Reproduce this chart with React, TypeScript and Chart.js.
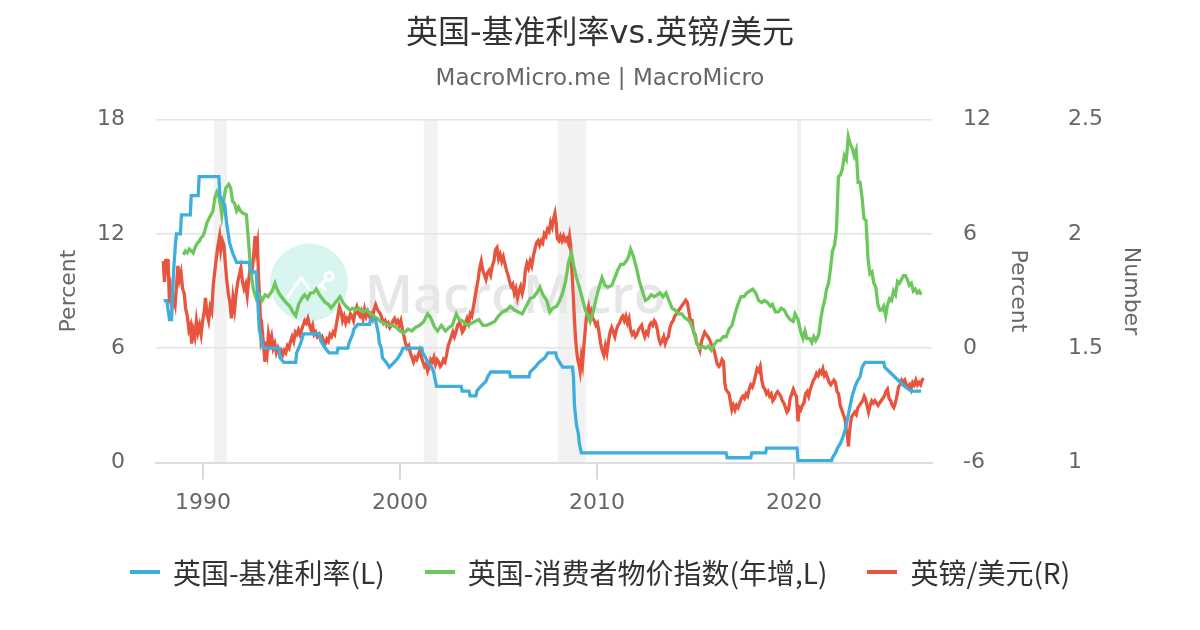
import React, { useEffect, useRef } from "react";
import { Chart, registerables } from "chart.js";

Chart.register(...registerables);

const TITLE = "英国-基准利率vs.英镑/美元";
const SUBTITLE = "MacroMicro.me | MacroMicro";
const SERIES_NAMES = ["英国-基准利率(L)", "英国-消费者物价指数(年增,L)", "英镑/美元(R)"];
const SERIES_COLORS = ["#3eaedc", "#6cc75c", "#e8553e"];
const LEFT_TITLE = "Percent";
const MID_TITLE = "Percent";
const RIGHT_TITLE = "Number";
const X_TICKS = [1990, 2000, 2010, 2020];
const X_RANGE = [1987.61, 2027.0];
const LEFT_RANGE = [0, 18, 6];
const MID_RANGE = [-6, 12, 6];
const RIGHT_RANGE = [1, 2.5, 0.5];
const RECESSIONS: [number, number][] = [
  [1990.55, 1991.2],
  [2001.2, 2001.9],
  [2008.0, 2009.45],
  [2020.15, 2020.35],
];

// [year, Bank Rate %]
const BANK_RATE: [number, number][] = [
  [1988.0, 8.5], [1988.15, 8.5], [1988.3, 7.5], [1988.4, 7.5], [1988.5, 10], [1988.6, 11.5],
  [1988.65, 12], [1988.85, 12], [1988.9, 13], [1989.35, 13], [1989.4, 14], [1989.75, 14],
  [1989.8, 15], [1990.8, 15], [1990.85, 14], [1991.1, 13.5], [1991.2, 12.5], [1991.35, 11.5],
  [1991.5, 11], [1991.7, 10.5], [1992.35, 10.5], [1992.4, 10], [1992.7, 10], [1992.75, 9],
  [1992.85, 7], [1993.05, 6], [1993.85, 6], [1993.9, 5.5], [1994.1, 5.25], [1994.7, 5.25],
  [1994.75, 5.75], [1994.95, 6.25], [1995.1, 6.75], [1995.9, 6.75], [1995.95, 6.5],
  [1996.05, 6.25], [1996.2, 6], [1996.4, 5.75], [1996.8, 5.75], [1996.85, 6], [1997.35, 6],
  [1997.4, 6.25], [1997.5, 6.5], [1997.6, 6.75], [1997.65, 7], [1997.85, 7.25], [1998.45, 7.25],
  [1998.5, 7.5], [1998.75, 7.5], [1998.8, 7.25], [1998.9, 6.75], [1998.95, 6.25], [1999.05, 6],
  [1999.1, 5.5], [1999.3, 5.25], [1999.45, 5], [1999.7, 5.25], [1999.9, 5.5], [2000.05, 5.75],
  [2000.15, 6], [2001.1, 6], [2001.15, 5.75], [2001.3, 5.5], [2001.4, 5.25], [2001.6, 5],
  [2001.7, 4.75], [2001.75, 4.5], [2001.85, 4], [2003.1, 4], [2003.15, 3.75], [2003.5, 3.75],
  [2003.55, 3.5], [2003.85, 3.5], [2003.9, 3.75], [2004.1, 4], [2004.35, 4.25], [2004.45, 4.5],
  [2004.6, 4.75], [2005.55, 4.75], [2005.6, 4.5], [2006.55, 4.5], [2006.6, 4.75], [2006.85, 5],
  [2007.05, 5.25], [2007.35, 5.5], [2007.5, 5.75], [2007.9, 5.75], [2007.95, 5.5], [2008.1, 5.25],
  [2008.25, 5], [2008.75, 5], [2008.8, 4.5], [2008.85, 3], [2008.95, 2], [2009.05, 1.5],
  [2009.1, 1], [2009.2, 0.5], [2016.55, 0.5], [2016.6, 0.25], [2017.8, 0.25], [2017.85, 0.5],
  [2018.55, 0.5], [2018.6, 0.75], [2020.15, 0.75], [2020.2, 0.1], [2021.9, 0.1], [2021.95, 0.25],
  [2022.1, 0.5], [2022.2, 0.75], [2022.35, 1], [2022.45, 1.25], [2022.6, 1.75], [2022.7, 2.25],
  [2022.85, 3], [2022.95, 3.5], [2023.1, 4], [2023.2, 4.25], [2023.35, 4.5], [2023.45, 5],
  [2023.6, 5.25], [2024.55, 5.25], [2024.6, 5], [2024.85, 4.75], [2025.1, 4.5], [2025.35, 4.25],
  [2025.6, 4], [2025.95, 3.75], [2026.45, 3.75],
];

// [year, CPI YoY %]
const CPI_YOY: [number, number][] = [
  [1989.0, 4.9], [1989.1, 5.1], [1989.2, 5.0], [1989.3, 5.2], [1989.4, 5.1], [1989.5, 5.0],
  [1989.6, 5.3], [1989.7, 5.5], [1989.8, 5.6], [1989.9, 5.8], [1990.0, 5.9], [1990.1, 6.2],
  [1990.2, 6.6], [1990.3, 6.8], [1990.4, 7.0], [1990.5, 7.2], [1990.6, 7.9], [1990.7, 8.2],
  [1990.8, 8.0], [1990.9, 7.4], [1990.95, 7.0], [1991.05, 7.8], [1991.15, 8.4], [1991.3, 8.6],
  [1991.4, 8.4], [1991.5, 7.7], [1991.6, 7.6], [1991.7, 7.2], [1991.8, 7.4], [1991.9, 7.2],
  [1992.0, 7.1], [1992.2, 7.0], [1992.35, 5.0], [1992.45, 3.8], [1992.55, 3.1], [1992.7, 2.6],
  [1992.85, 2.8], [1993.0, 2.5], [1993.15, 2.8], [1993.3, 2.7], [1993.5, 3.0], [1993.65, 3.4],
  [1993.75, 3.1], [1993.9, 2.8], [1994.05, 2.6], [1994.2, 2.4], [1994.4, 2.2], [1994.55, 1.9],
  [1994.7, 1.7], [1994.85, 2.3], [1995.0, 2.6], [1995.15, 2.8], [1995.3, 2.6], [1995.45, 2.9],
  [1995.6, 2.9], [1995.75, 3.1], [1995.9, 2.8], [1996.05, 2.6], [1996.2, 2.4], [1996.35, 2.3],
  [1996.5, 2.1], [1996.65, 2.3], [1996.8, 2.5], [1996.95, 2.7], [1997.1, 2.4], [1997.25, 2.2],
  [1997.45, 2.0], [1997.6, 2.1], [1997.75, 2.0], [1997.9, 2.1], [1998.1, 1.9], [1998.3, 2.0],
  [1998.5, 1.8], [1998.65, 1.7], [1998.8, 1.6], [1999.0, 1.4], [1999.2, 1.3], [1999.4, 1.2],
  [1999.6, 1.2], [1999.8, 1.1], [2000.0, 0.9], [2000.2, 0.8], [2000.4, 1.0], [2000.6, 0.9],
  [2000.8, 1.1], [2001.0, 1.2], [2001.2, 1.4], [2001.4, 1.8], [2001.55, 1.6], [2001.75, 1.1],
  [2001.9, 0.9], [2002.1, 1.2], [2002.3, 0.9], [2002.5, 1.1], [2002.65, 1.2], [2002.85, 1.8],
  [2003.0, 1.5], [2003.2, 1.4], [2003.4, 1.2], [2003.6, 1.3], [2003.8, 1.4], [2004.0, 1.5],
  [2004.2, 1.2], [2004.4, 1.2], [2004.6, 1.3], [2004.8, 1.4], [2005.0, 1.7], [2005.2, 1.9],
  [2005.4, 2.0], [2005.6, 2.2], [2005.8, 2.0], [2006.0, 1.9], [2006.2, 1.8], [2006.4, 2.2],
  [2006.6, 2.6], [2006.8, 2.7], [2007.0, 3.0], [2007.1, 3.2], [2007.25, 2.8], [2007.45, 2.5],
  [2007.6, 1.9], [2007.75, 2.1], [2007.95, 2.2], [2008.1, 2.5], [2008.25, 2.9], [2008.4, 3.5],
  [2008.55, 4.5], [2008.7, 5.0], [2008.8, 4.4], [2008.95, 3.7], [2009.1, 3.2], [2009.25, 2.6],
  [2009.4, 2.0], [2009.55, 1.7], [2009.65, 1.4], [2009.8, 1.9], [2009.95, 2.6], [2010.1, 3.2],
  [2010.25, 3.7], [2010.4, 3.3], [2010.55, 3.2], [2010.75, 3.3], [2010.9, 3.7], [2011.05, 4.1],
  [2011.2, 4.4], [2011.35, 4.4], [2011.5, 4.6], [2011.6, 4.8], [2011.7, 5.2], [2011.85, 4.8],
  [2012.0, 4.2], [2012.15, 3.5], [2012.3, 3.0], [2012.45, 2.5], [2012.6, 2.6], [2012.75, 2.8],
  [2012.9, 2.7], [2013.05, 2.8], [2013.2, 2.9], [2013.35, 2.7], [2013.5, 2.9], [2013.65, 2.5],
  [2013.8, 2.1], [2013.95, 2.0], [2014.1, 1.8], [2014.3, 1.8], [2014.45, 1.6], [2014.6, 1.5],
  [2014.75, 1.3], [2014.9, 0.9], [2015.05, 0.3], [2015.2, 0.0], [2015.35, 0.1], [2015.5, 0.0],
  [2015.65, 0.1], [2015.8, -0.1], [2015.95, 0.2], [2016.1, 0.4], [2016.25, 0.4], [2016.4, 0.6],
  [2016.55, 0.6], [2016.7, 1.0], [2016.85, 1.2], [2017.0, 1.8], [2017.15, 2.3], [2017.3, 2.7],
  [2017.45, 2.7], [2017.6, 2.9], [2017.75, 3.0], [2017.9, 3.1], [2018.05, 2.9], [2018.2, 2.5],
  [2018.35, 2.4], [2018.5, 2.5], [2018.65, 2.4], [2018.8, 2.2], [2018.9, 2.3], [2019.05, 1.9],
  [2019.2, 1.9], [2019.35, 2.1], [2019.5, 2.0], [2019.65, 1.7], [2019.8, 1.5], [2019.95, 1.4],
  [2020.05, 1.8], [2020.2, 1.5], [2020.35, 0.8], [2020.45, 0.5], [2020.55, 0.9], [2020.65, 0.5],
  [2020.8, 0.5], [2020.9, 0.3], [2021.0, 0.6], [2021.1, 0.4], [2021.25, 0.7], [2021.35, 1.5],
  [2021.45, 2.1], [2021.55, 2.5], [2021.65, 3.1], [2021.75, 3.4], [2021.85, 4.2], [2021.95, 5.1],
  [2022.05, 5.4], [2022.15, 6.2], [2022.25, 9.0], [2022.35, 9.1], [2022.45, 9.4], [2022.55, 10.1],
  [2022.65, 9.9], [2022.75, 11.1], [2022.85, 10.7], [2022.95, 10.5], [2023.05, 10.1], [2023.15, 10.4],
  [2023.25, 8.7], [2023.35, 8.7], [2023.45, 7.9], [2023.55, 6.8], [2023.65, 6.7], [2023.75, 4.7],
  [2023.85, 3.9], [2023.95, 4.0], [2024.05, 3.4], [2024.15, 3.2], [2024.25, 2.3], [2024.35, 2.0],
  [2024.45, 2.0], [2024.55, 2.2], [2024.65, 1.7], [2024.75, 2.3], [2024.85, 2.6], [2024.95, 2.5],
  [2025.05, 3.0], [2025.15, 2.8], [2025.25, 3.5], [2025.35, 3.4], [2025.45, 3.6], [2025.55, 3.8],
  [2025.65, 3.8], [2025.75, 3.6], [2025.85, 3.3], [2025.95, 3.4], [2026.05, 3.0], [2026.15, 3.1],
  [2026.25, 2.9], [2026.35, 3.0], [2026.45, 2.8],
];

// [year, GBP/USD]
const GBP_USD: [number, number][] = [
  [1987.98, 1.88], [1988.04, 1.79], [1988.1, 1.89], [1988.16, 1.82], [1988.22, 1.89], [1988.28, 1.73],
  [1988.34, 1.76], [1988.42, 1.68], [1988.5, 1.72], [1988.58, 1.69], [1988.66, 1.78], [1988.72, 1.86],
  [1988.8, 1.80], [1988.88, 1.83], [1988.96, 1.76], [1989.04, 1.74], [1989.12, 1.67], [1989.2, 1.64],
  [1989.28, 1.58], [1989.36, 1.60], [1989.42, 1.52], [1989.5, 1.58], [1989.58, 1.55], [1989.66, 1.62],
  [1989.74, 1.57], [1989.82, 1.60], [1989.9, 1.56], [1989.98, 1.62], [1990.06, 1.66], [1990.12, 1.72],
  [1990.2, 1.65], [1990.28, 1.62], [1990.36, 1.68], [1990.44, 1.66], [1990.52, 1.78], [1990.6, 1.84],
  [1990.68, 1.90], [1990.76, 1.95], [1990.84, 1.99], [1990.9, 1.93], [1990.98, 1.97], [1991.06, 1.95],
  [1991.12, 1.88], [1991.2, 1.80], [1991.28, 1.74], [1991.36, 1.70], [1991.44, 1.63], [1991.52, 1.72],
  [1991.6, 1.67], [1991.68, 1.74], [1991.76, 1.79], [1991.84, 1.82], [1991.92, 1.85], [1992.0, 1.79],
  [1992.08, 1.76], [1992.16, 1.78], [1992.24, 1.73], [1992.32, 1.80], [1992.4, 1.86], [1992.48, 1.83],
  [1992.56, 1.90], [1992.64, 1.99], [1992.7, 1.93], [1992.76, 1.96], [1992.82, 1.80], [1992.88, 1.70],
  [1992.94, 1.55], [1993.0, 1.58], [1993.08, 1.50], [1993.14, 1.44], [1993.2, 1.53], [1993.26, 1.49],
  [1993.32, 1.56], [1993.4, 1.52], [1993.48, 1.55], [1993.56, 1.50], [1993.64, 1.52], [1993.72, 1.48],
  [1993.8, 1.50], [1993.88, 1.48], [1993.96, 1.49], [1994.04, 1.47], [1994.12, 1.49], [1994.2, 1.48],
  [1994.28, 1.51], [1994.36, 1.50], [1994.44, 1.53], [1994.52, 1.55], [1994.6, 1.53], [1994.68, 1.57],
  [1994.76, 1.56], [1994.84, 1.58], [1994.92, 1.56], [1995.0, 1.58], [1995.08, 1.60], [1995.16, 1.62],
  [1995.24, 1.61], [1995.32, 1.63], [1995.4, 1.60], [1995.48, 1.58], [1995.56, 1.60], [1995.64, 1.56],
  [1995.72, 1.57], [1995.8, 1.55], [1995.88, 1.56], [1995.96, 1.54], [1996.04, 1.55], [1996.12, 1.53],
  [1996.2, 1.52], [1996.28, 1.54], [1996.36, 1.53], [1996.44, 1.56], [1996.52, 1.55], [1996.6, 1.57],
  [1996.68, 1.56], [1996.76, 1.60], [1996.84, 1.64], [1996.92, 1.68], [1997.0, 1.66], [1997.08, 1.62],
  [1997.16, 1.64], [1997.24, 1.61], [1997.32, 1.63], [1997.4, 1.62], [1997.48, 1.65], [1997.56, 1.64],
  [1997.64, 1.62], [1997.72, 1.66], [1997.8, 1.68], [1997.88, 1.65], [1997.96, 1.64], [1998.04, 1.66],
  [1998.12, 1.63], [1998.2, 1.67], [1998.28, 1.64], [1998.36, 1.66], [1998.44, 1.64], [1998.52, 1.65],
  [1998.6, 1.63], [1998.68, 1.67], [1998.76, 1.69], [1998.84, 1.67], [1998.92, 1.66], [1999.0, 1.65],
  [1999.08, 1.63], [1999.16, 1.61], [1999.24, 1.62], [1999.32, 1.60], [1999.4, 1.61], [1999.48, 1.59],
  [1999.56, 1.60], [1999.64, 1.62], [1999.72, 1.63], [1999.8, 1.61], [1999.88, 1.62], [1999.96, 1.60],
  [2000.04, 1.62], [2000.12, 1.58], [2000.2, 1.55], [2000.28, 1.52], [2000.36, 1.50], [2000.44, 1.51],
  [2000.52, 1.48], [2000.6, 1.46], [2000.68, 1.44], [2000.76, 1.46], [2000.84, 1.45], [2000.92, 1.47],
  [2001.0, 1.49], [2001.08, 1.46], [2001.16, 1.44], [2001.24, 1.42], [2001.32, 1.43], [2001.4, 1.40],
  [2001.48, 1.42], [2001.56, 1.45], [2001.64, 1.44], [2001.72, 1.46], [2001.8, 1.43], [2001.88, 1.45],
  [2001.96, 1.44], [2002.04, 1.42], [2002.12, 1.43], [2002.2, 1.45], [2002.28, 1.44], [2002.36, 1.47],
  [2002.44, 1.51], [2002.52, 1.53], [2002.6, 1.55], [2002.68, 1.57], [2002.76, 1.55], [2002.84, 1.57],
  [2002.92, 1.60], [2003.0, 1.61], [2003.08, 1.60], [2003.16, 1.57], [2003.24, 1.58], [2003.32, 1.61],
  [2003.4, 1.63], [2003.48, 1.61], [2003.56, 1.65], [2003.64, 1.64], [2003.72, 1.68], [2003.8, 1.72],
  [2003.88, 1.76], [2003.96, 1.80], [2004.04, 1.85], [2004.12, 1.88], [2004.2, 1.84], [2004.28, 1.82],
  [2004.36, 1.80], [2004.44, 1.83], [2004.52, 1.84], [2004.6, 1.82], [2004.68, 1.86], [2004.76, 1.88],
  [2004.84, 1.93], [2004.92, 1.94], [2005.0, 1.89], [2005.08, 1.91], [2005.16, 1.88], [2005.24, 1.90],
  [2005.32, 1.87], [2005.4, 1.84], [2005.48, 1.82], [2005.56, 1.79], [2005.64, 1.77], [2005.72, 1.78],
  [2005.8, 1.74], [2005.88, 1.76], [2005.96, 1.72], [2006.04, 1.75], [2006.12, 1.77], [2006.2, 1.74],
  [2006.28, 1.77], [2006.36, 1.84], [2006.44, 1.87], [2006.52, 1.85], [2006.6, 1.88], [2006.68, 1.86],
  [2006.76, 1.90], [2006.84, 1.93], [2006.92, 1.96], [2007.0, 1.97], [2007.08, 1.95], [2007.16, 1.97],
  [2007.24, 1.96], [2007.32, 2.00], [2007.4, 1.99], [2007.48, 2.02], [2007.56, 2.01], [2007.64, 2.05],
  [2007.72, 2.03], [2007.8, 2.07], [2007.86, 2.09], [2007.92, 2.05], [2007.98, 1.98], [2008.06, 1.97],
  [2008.14, 1.99], [2008.22, 1.97], [2008.3, 1.99], [2008.38, 1.97], [2008.46, 1.98], [2008.54, 1.96],
  [2008.6, 1.99], [2008.66, 1.95], [2008.72, 1.84], [2008.78, 1.75], [2008.84, 1.64], [2008.9, 1.55],
  [2008.96, 1.49], [2009.02, 1.45], [2009.08, 1.43], [2009.14, 1.40], [2009.2, 1.46], [2009.26, 1.43],
  [2009.32, 1.50], [2009.38, 1.56], [2009.44, 1.62], [2009.5, 1.66], [2009.56, 1.68], [2009.62, 1.64],
  [2009.7, 1.66], [2009.78, 1.63], [2009.86, 1.62], [2009.94, 1.60], [2010.02, 1.61], [2010.1, 1.57],
  [2010.18, 1.52], [2010.26, 1.49], [2010.34, 1.47], [2010.42, 1.51], [2010.5, 1.48], [2010.58, 1.53],
  [2010.66, 1.57], [2010.74, 1.59], [2010.82, 1.57], [2010.9, 1.55], [2010.98, 1.58], [2011.06, 1.60],
  [2011.14, 1.61], [2011.22, 1.63], [2011.3, 1.64], [2011.38, 1.62], [2011.46, 1.64], [2011.54, 1.61],
  [2011.62, 1.63], [2011.7, 1.58], [2011.78, 1.56], [2011.86, 1.57], [2011.94, 1.55], [2012.02, 1.56],
  [2012.1, 1.58], [2012.18, 1.59], [2012.26, 1.60], [2012.34, 1.57], [2012.42, 1.55], [2012.5, 1.57],
  [2012.58, 1.56], [2012.66, 1.60], [2012.74, 1.61], [2012.82, 1.60], [2012.9, 1.62], [2012.98, 1.61],
  [2013.06, 1.58], [2013.14, 1.54], [2013.22, 1.52], [2013.3, 1.53], [2013.38, 1.55], [2013.46, 1.52],
  [2013.54, 1.54], [2013.62, 1.55], [2013.7, 1.59], [2013.78, 1.61], [2013.86, 1.62], [2013.94, 1.64],
  [2014.02, 1.65], [2014.1, 1.66], [2014.18, 1.67], [2014.26, 1.68], [2014.34, 1.69], [2014.42, 1.70],
  [2014.5, 1.71], [2014.58, 1.70], [2014.66, 1.66], [2014.74, 1.62], [2014.82, 1.62], [2014.9, 1.57],
  [2014.98, 1.56], [2015.06, 1.52], [2015.14, 1.51], [2015.22, 1.49], [2015.3, 1.53], [2015.38, 1.55],
  [2015.46, 1.57], [2015.54, 1.56], [2015.62, 1.55], [2015.7, 1.54], [2015.78, 1.52], [2015.86, 1.51],
  [2015.94, 1.49], [2016.02, 1.46], [2016.1, 1.43], [2016.18, 1.42], [2016.26, 1.43], [2016.34, 1.45],
  [2016.42, 1.44], [2016.48, 1.35], [2016.54, 1.32], [2016.62, 1.31], [2016.7, 1.30], [2016.78, 1.26],
  [2016.84, 1.23], [2016.92, 1.25], [2017.0, 1.23], [2017.08, 1.25], [2017.16, 1.24], [2017.24, 1.26],
  [2017.32, 1.28], [2017.4, 1.29], [2017.48, 1.28], [2017.56, 1.30], [2017.64, 1.29], [2017.72, 1.32],
  [2017.8, 1.34], [2017.88, 1.33], [2017.96, 1.35], [2018.04, 1.38], [2018.12, 1.41], [2018.2, 1.40],
  [2018.28, 1.42], [2018.36, 1.36], [2018.44, 1.33], [2018.52, 1.32], [2018.6, 1.30], [2018.68, 1.31],
  [2018.76, 1.29], [2018.84, 1.30], [2018.92, 1.27], [2019.0, 1.28], [2019.08, 1.30], [2019.16, 1.31],
  [2019.24, 1.30], [2019.32, 1.29], [2019.4, 1.27], [2019.48, 1.26], [2019.56, 1.24], [2019.64, 1.22],
  [2019.72, 1.23], [2019.8, 1.28], [2019.88, 1.30], [2019.96, 1.32], [2020.04, 1.30], [2020.12, 1.29],
  [2020.2, 1.18], [2020.26, 1.24], [2020.34, 1.23], [2020.42, 1.25], [2020.5, 1.26], [2020.58, 1.30],
  [2020.66, 1.31], [2020.74, 1.29], [2020.82, 1.32], [2020.9, 1.34], [2020.98, 1.36], [2021.06, 1.37],
  [2021.14, 1.39], [2021.22, 1.38], [2021.3, 1.40], [2021.38, 1.39], [2021.46, 1.41], [2021.54, 1.38],
  [2021.62, 1.39], [2021.7, 1.37], [2021.78, 1.35], [2021.86, 1.34], [2021.94, 1.35], [2022.02, 1.36],
  [2022.1, 1.35], [2022.18, 1.31], [2022.26, 1.30], [2022.34, 1.25], [2022.42, 1.23], [2022.5, 1.21],
  [2022.58, 1.19], [2022.64, 1.15], [2022.7, 1.12], [2022.76, 1.07], [2022.8, 1.12], [2022.86, 1.17],
  [2022.92, 1.20], [2023.0, 1.21], [2023.08, 1.22], [2023.16, 1.21], [2023.24, 1.24], [2023.32, 1.25],
  [2023.4, 1.26], [2023.48, 1.27], [2023.56, 1.29], [2023.62, 1.28], [2023.7, 1.25], [2023.78, 1.22],
  [2023.86, 1.25], [2023.94, 1.27], [2024.02, 1.26], [2024.1, 1.27], [2024.18, 1.26], [2024.26, 1.25],
  [2024.34, 1.26], [2024.42, 1.27], [2024.5, 1.28], [2024.58, 1.29], [2024.66, 1.31], [2024.74, 1.32],
  [2024.82, 1.28], [2024.9, 1.27], [2024.98, 1.25], [2025.06, 1.24], [2025.14, 1.26], [2025.22, 1.29],
  [2025.3, 1.33], [2025.38, 1.34], [2025.46, 1.36], [2025.54, 1.35], [2025.62, 1.36], [2025.7, 1.34],
  [2025.78, 1.33], [2025.86, 1.34], [2025.94, 1.32], [2026.02, 1.35], [2026.1, 1.34], [2026.18, 1.36],
  [2026.26, 1.34], [2026.34, 1.35], [2026.42, 1.34], [2026.5, 1.36], [2026.56, 1.37],
];

const FONT = "'DejaVu Sans', 'Noto Sans CJK SC', sans-serif";

const toPoints = (arr: [number, number][]) => arr.map(([x, y]) => ({ x, y }));

const decorPlugin = {
  id: "decor",
  beforeDraw(chart: any) {
    const { ctx, chartArea: a, scales } = chart;
    const xs = scales.x;
    ctx.save();
    ctx.fillStyle = "#f2f2f2";
    for (const [s, e] of RECESSIONS) {
      const x0 = xs.getPixelForValue(s);
      const x1 = xs.getPixelForValue(e);
      ctx.fillRect(x0, a.top, x1 - x0, a.bottom - a.top);
    }
    ctx.restore();
  },
  beforeDatasetsDraw(chart: any) {
    const { ctx, chartArea: a } = chart;
    const cx = a.left + 153;
    const cy = a.top + 163;
    ctx.save();
    ctx.fillStyle = "#d8f6ef";
    ctx.beginPath();
    ctx.arc(cx, cy, 39, 0, Math.PI * 2);
    ctx.fill();
    ctx.strokeStyle = "#ffffff";
    ctx.lineWidth = 3;
    ctx.lineJoin = "round";
    ctx.beginPath();
    ctx.moveTo(cx - 22, cy + 16);
    ctx.lineTo(cx - 8, cy - 5);
    ctx.lineTo(cx + 4, cy + 12);
    ctx.lineTo(cx + 12, cy + 2);
    ctx.lineTo(cx + 17, cy + 8);
    ctx.moveTo(cx + 12, cy + 2);
    ctx.lineTo(cx + 17, cy - 3);
    ctx.stroke();
    ctx.beginPath();
    ctx.arc(cx + 20, cy - 6, 4, 0, Math.PI * 2);
    ctx.stroke();
    ctx.fillStyle = "#e6e6e6";
    ctx.font = "600 52px 'Open Sans', 'DejaVu Sans', sans-serif";
    ctx.textBaseline = "alphabetic";
    ctx.textAlign = "left";
    ctx.fillText("MacroMicro", a.left + 209, a.top + 193);
    ctx.restore();
  },
};

export default function App() {
  const canvasRef = useRef<HTMLCanvasElement | null>(null);

  useEffect(() => {
    const canvas = canvasRef.current;
    if (!canvas) return;
    const chart = new Chart(canvas, {
      type: "line",
      data: {
        datasets: [
          {
            label: SERIES_NAMES[0],
            data: toPoints(BANK_RATE),
            borderColor: SERIES_COLORS[0],
            backgroundColor: SERIES_COLORS[0],
            borderWidth: 3.3,
            pointRadius: 0,
            tension: 0,
            yAxisID: "y",
          },
          {
            label: SERIES_NAMES[1],
            data: toPoints(CPI_YOY),
            borderColor: SERIES_COLORS[1],
            backgroundColor: SERIES_COLORS[1],
            borderWidth: 3.3,
            pointRadius: 0,
            tension: 0,
            yAxisID: "y1",
          },
          {
            label: SERIES_NAMES[2],
            data: toPoints(GBP_USD),
            borderColor: SERIES_COLORS[2],
            backgroundColor: SERIES_COLORS[2],
            borderWidth: 3.3,
            pointRadius: 0,
            tension: 0,
            yAxisID: "y2",
          },
        ],
      },
      options: {
        animation: false,
        responsive: false,
        devicePixelRatio: 1,
        parsing: false,
        normalized: true,
        layout: { padding: { left: 56, right: 56, top: 0, bottom: 107.5 } },
        plugins: {
          legend: { display: false },
          tooltip: { enabled: false },
          title: {
            display: true,
            text: TITLE,
            color: "#333333",
            font: { family: FONT, size: 32, weight: "normal" },
            padding: { top: 15.5, bottom: 0 },
          },
          subtitle: {
            display: true,
            text: SUBTITLE,
            color: "#666666",
            font: { family: FONT, size: 23, weight: "normal" },
            padding: { top: 11.5, bottom: 26.5 },
          },
        },
        scales: {
          x: {
            type: "linear",
            min: X_RANGE[0],
            max: X_RANGE[1],
            afterBuildTicks: (scale: any) => {
              scale.ticks = X_TICKS.map((v) => ({ value: v }));
            },
            afterFit: (scale: any) => {
              scale.height = 60;
            },
            grid: {
              drawOnChartArea: false,
              drawTicks: true,
              tickLength: 17,
              color: "#d9d9d9",
              lineWidth: 2,
            },
            border: { display: true, color: "#dddddd", width: 2 },
            ticks: {
              autoSkip: false,
              maxRotation: 0,
              padding: 11,
              color: "#666666",
              font: { family: FONT, size: 22 },
              callback: (v: any) => String(v),
            },
          },
          y: {
            type: "linear",
            position: "left",
            min: LEFT_RANGE[0],
            max: LEFT_RANGE[1],
            afterFit: (scale: any) => {
              scale.width = 100;
            },
            grid: { drawTicks: false, color: "#e3e3e3", lineWidth: 1.5 },
            border: { display: false },
            ticks: {
              stepSize: LEFT_RANGE[2],
              padding: 31,
              color: "#666666",
              font: { family: FONT, size: 22 },
              callback: (v: any) => String(v),
            },
            title: {
              display: true,
              text: LEFT_TITLE,
              color: "#666666",
              font: { family: FONT, size: 22 },
              padding: 0,
            },
          },
          y1: {
            type: "linear",
            position: "right",
            min: MID_RANGE[0],
            max: MID_RANGE[1],
            afterFit: (scale: any) => {
              scale.width = 99;
            },
            grid: { display: false, drawTicks: false, drawOnChartArea: false },
            border: { display: false },
            ticks: {
              stepSize: MID_RANGE[2],
              padding: 31,
              color: "#666666",
              font: { family: FONT, size: 22 },
              callback: (v: any) => String(v),
            },
            title: {
              display: true,
              text: MID_TITLE,
              color: "#666666",
              font: { family: FONT, size: 22 },
              padding: 0,
            },
          },
          y2: {
            type: "linear",
            position: "right",
            min: RIGHT_RANGE[0],
            max: RIGHT_RANGE[1],
            afterFit: (scale: any) => {
              scale.width = 113;
            },
            grid: { display: false, drawTicks: false, drawOnChartArea: false },
            border: { display: false },
            ticks: {
              stepSize: RIGHT_RANGE[2],
              padding: 37,
              color: "#666666",
              font: { family: FONT, size: 22 },
              callback: (v: any) => String(v),
            },
            title: {
              display: true,
              text: RIGHT_TITLE,
              color: "#666666",
              font: { family: FONT, size: 22 },
              padding: 0,
            },
          },
        },
      },
      plugins: [decorPlugin],
    } as any);
    return () => chart.destroy();
  }, []);

  return (
    <div style={{ position: "absolute", left: 0, top: 0, width: 1200, height: 630, background: "#ffffff" }}>
      <canvas ref={canvasRef} width={1200} height={630} style={{ display: "block" }} />
      <div
        style={{
          position: "absolute",
          left: 0,
          top: 552,
          width: 1200,
          height: 40,
          display: "flex",
          justifyContent: "center",
          alignItems: "center",
          gap: 40,
          fontFamily: "'Noto Sans CJK SC', 'DejaVu Sans', sans-serif",
          fontSize: 28,
          color: "#333333",
          whiteSpace: "nowrap",
        }}
      >
        {SERIES_NAMES.map((name, i) => (
          <div key={name} style={{ display: "flex", alignItems: "center" }}>
            <span
              style={{
                display: "inline-block",
                width: 30,
                height: 4,
                background: SERIES_COLORS[i],
                marginRight: 13,
              }}
            />
            <span>{name}</span>
          </div>
        ))}
      </div>
    </div>
  );
}
